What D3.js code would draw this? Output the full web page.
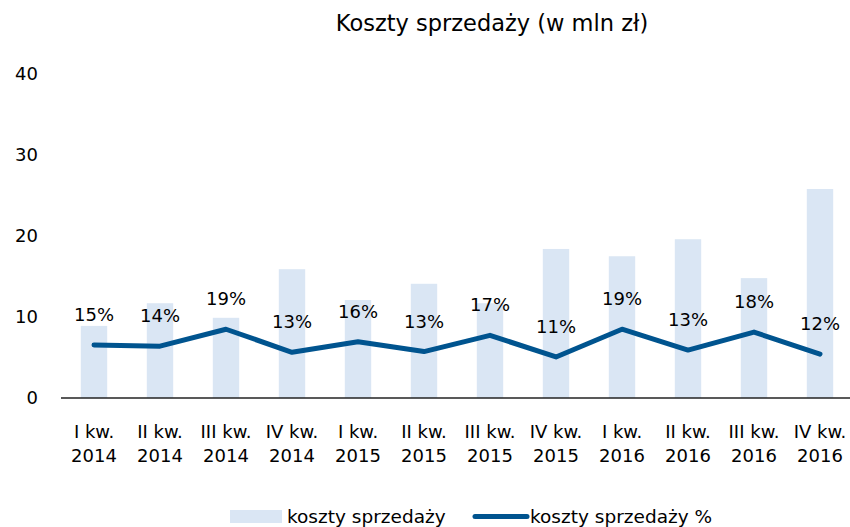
<!DOCTYPE html>
<html>
<head>
<meta charset="utf-8">
<script src="https://cdn.jsdelivr.net/npm/d3@7"></script>
<style>
  body { margin: 0; background: #fff; }
  text { font-family: "DejaVu Sans", sans-serif; fill: #000; }
</style>
</head>
<body>
<div id="chart"></div>
<script>
// data
var quarters = ["I kw.", "II kw.", "III kw.", "IV kw.", "I kw.", "II kw.", "III kw.", "IV kw.", "I kw.", "II kw.", "III kw.", "IV kw."];
var years = ["2014", "2014", "2014", "2014", "2015", "2015", "2015", "2015", "2016", "2016", "2016", "2016"];
var costs = [8.9, 11.7, 9.9, 15.9, 12.1, 14.1, 11.7, 18.4, 17.5, 19.6, 14.8, 25.8];
var costsPct = [14.7, 14.4, 19.1, 12.7, 15.6, 12.9, 17.4, 11.4, 19.1, 13.3, 18.3, 12.2];
var yTicks = [0, 10, 20, 30, 40];
var title = "Koszty sprzedaży (w mln zł)";
var seriesNames = ["koszty sprzedaży", "koszty sprzedaży %"];

var width = 850, height = 527;
var margin = {top: 74, right: -3, bottom: 129, left: 61};
var barColor = "#dae6f4", lineColor = "#00548f";

var svg = d3.select("#chart").append("svg")
    .attr("width", width)
    .attr("height", height);

var idx = d3.range(costs.length);
var x = d3.scaleBand()
    .domain(idx)
    .range([margin.left, width - margin.right])
    .paddingInner(0.6)
    .paddingOuter(0.3);
var y = d3.scaleLinear()
    .domain([0, 40])
    .range([height - margin.bottom, margin.top]);
// hidden secondary axis for the percentage line
var y2 = d3.scaleLinear()
    .domain([0, 90])
    .range([height - margin.bottom, margin.top]);

// title
svg.append("text")
    .attr("x", 492)
    .attr("y", 31)
    .attr("text-anchor", "middle")
    .attr("font-size", 22.5)
    .text(title);

// y axis labels
svg.append("g").selectAll("text")
    .data(yTicks)
    .enter().append("text")
    .attr("x", 38)
    .attr("y", function(d) { return y(d); })
    .attr("dy", "0.35em")
    .attr("text-anchor", "end")
    .attr("font-size", 18)
    .text(function(d) { return d; });

// bars
svg.append("g").selectAll("rect")
    .data(costs)
    .enter().append("rect")
    .attr("x", function(d, i) { return x(i); })
    .attr("y", function(d) { return y(d); })
    .attr("width", x.bandwidth())
    .attr("height", function(d) { return y(0) - y(d); })
    .attr("fill", barColor);

// x axis line
svg.append("line")
    .attr("x1", margin.left)
    .attr("x2", width)
    .attr("y1", y(0))
    .attr("y2", y(0))
    .attr("stroke", "#222")
    .attr("stroke-width", 1.5);

// x labels
var xl = svg.append("g").selectAll("g")
    .data(idx)
    .enter().append("g")
    .attr("transform", function(i) {
        return "translate(" + (x(i) + x.bandwidth() / 2) + ",0)"; });
xl.append("text")
    .attr("y", 438)
    .attr("text-anchor", "middle")
    .attr("font-size", 18)
    .text(function(i) { return quarters[i]; });
xl.append("text")
    .attr("y", 462)
    .attr("text-anchor", "middle")
    .attr("font-size", 18)
    .text(function(i) { return years[i]; });

// percentage line
var line = d3.line()
    .x(function(d, i) { return x(i) + x.bandwidth() / 2; })
    .y(function(d) { return y2(d); });
svg.append("path")
    .datum(costsPct)
    .attr("d", line)
    .attr("fill", "none")
    .attr("stroke", lineColor)
    .attr("stroke-width", 5)
    .attr("stroke-linejoin", "round")
    .attr("stroke-linecap", "round");

// percentage labels
svg.append("g").selectAll("text")
    .data(costsPct)
    .enter().append("text")
    .attr("x", function(d, i) { return x(i) + x.bandwidth() / 2; })
    .attr("y", function(d) { return y2(d) - 24; })
    .attr("text-anchor", "middle")
    .attr("font-size", 18)
    .text(function(d) { return Math.round(d) + "%"; });

// legend
var lg = svg.append("g");
lg.append("rect")
    .attr("x", 230).attr("y", 510)
    .attr("width", 52).attr("height", 13)
    .attr("fill", barColor);
lg.append("text")
    .attr("x", 287).attr("y", 523)
    .attr("font-size", 18.5)
    .text(seriesNames[0]);
lg.append("line")
    .attr("x1", 475).attr("x2", 527)
    .attr("y1", 516.5).attr("y2", 516.5)
    .attr("stroke", lineColor)
    .attr("stroke-width", 5)
    .attr("stroke-linecap", "round");
lg.append("text")
    .attr("x", 530).attr("y", 523)
    .attr("font-size", 18.5)
    .text(seriesNames[1]);
</script>
</body>
</html>
